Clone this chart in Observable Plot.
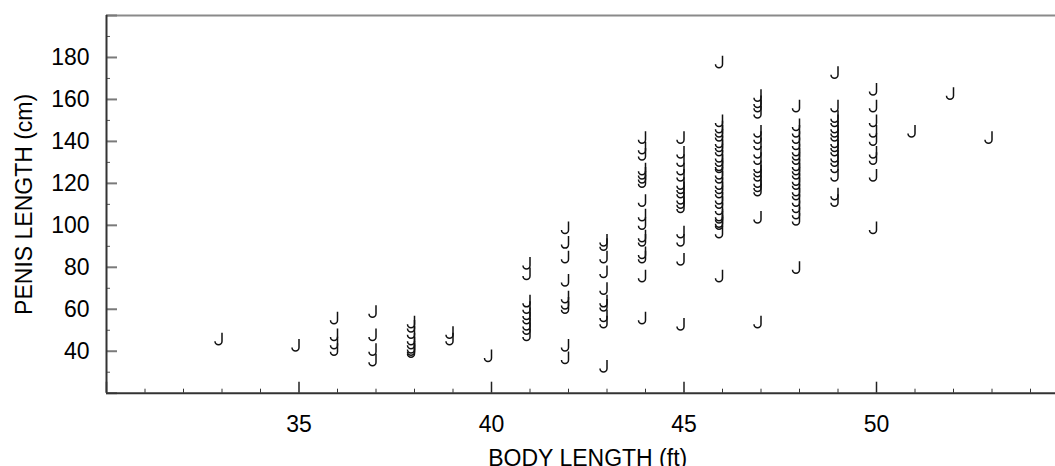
<!DOCTYPE html>
<html>
<head>
<meta charset="utf-8">
<script src="https://cdn.jsdelivr.net/npm/d3@7"></script>
<script src="https://cdn.jsdelivr.net/npm/@observablehq/plot@0.6"></script>
<style>
  html, body { margin: 0; padding: 0; background: #fff; overflow: hidden; width: 1055px; height: 466px; }
  #chart { width: 1055px; height: 466px; overflow: hidden; }
  #chart svg { display: block; max-width: none !important; }
</style>
</head>
<body>
<div id="chart"></div>
<script>
// Body length (ft) of each column of points
const bodyLengthFt = [33, 35, 36, 37, 38, 39, 40, 41, 42, 43, 44, 45, 46, 47, 48, 49, 50, 51, 52, 53];
// Penis length (cm) values for each body length column
const penisLengthCm = [
  [46],
  [43],
  [56, 48, 44, 41],
  [59, 48, 41, 36],
  [54, 52, 49, 46, 44, 42, 41, 40],
  [49, 46],
  [38],
  [82, 77, 64, 61, 58, 56, 53, 51, 48],
  [99, 92, 85, 74, 66, 63, 61, 43, 37],
  [93, 91, 85, 78, 70, 64, 62, 57, 54, 33],
  [142, 137, 134, 127, 125, 123, 121, 112, 105, 101, 95, 93, 87, 85, 76, 56],
  [142, 135, 131, 127, 124, 120, 118, 116, 113, 111, 109, 97, 93, 84, 53],
  [178, 150, 147, 145, 143, 140, 138, 136, 133, 131, 129, 128, 125, 123, 120, 118, 116, 113, 111, 108, 105, 104, 102, 101, 97, 76],
  [162, 159, 157, 154, 145, 142, 139, 135, 132, 128, 126, 124, 121, 119, 117, 104, 54],
  [157, 148, 145, 142, 139, 136, 134, 132, 129, 127, 125, 122, 120, 117, 115, 112, 109, 106, 103, 80],
  [173, 157, 152, 150, 147, 145, 143, 140, 138, 136, 133, 131, 128, 124, 115, 112],
  [165, 157, 150, 145, 141, 135, 132, 124, 99],
  [145],
  [163],
  [142]
];
// Axis ticks
const xMajorTicks = [30, 35, 40, 45, 50];
const xTickLabels = [35, 40, 45, 50];
const xMinorTicks = [31, 32, 33, 34, 36, 37, 38, 39, 41, 42, 43, 44, 46, 47, 48, 49, 51, 52, 53, 54];
const yMajorTicks = [20, 40, 60, 80, 100, 120, 140, 160, 180, 200];
const yTickLabels = [40, 60, 80, 100, 120, 140, 160, 180];
const yMinorTicks = [30, 50, 70, 90, 110, 130, 150, 170, 190];
const xTitle = "BODY LENGTH (ft)";
const yTitle = "PENIS LENGTH (cm)";

const points = bodyLengthFt.flatMap((ft, i) => penisLengthCm[i].map(cm => ({ft, cm})));

// hook-shaped marker ("J")
const hook = {
  draw(ctx) {
    ctx.moveTo(0, -6);
    ctx.lineTo(0, 2.5);
    ctx.arc(-3.5, 2.5, 3.5, 0, Math.PI, false);
  }
};

const W = 1070, H = 466, mT = 15, mB = 73.3, mL = 106, mR = 1.5;
const plotW = W - mL - mR, plotH = H - mT - mB;
const font = "'Liberation Sans', Arial, Helvetica, sans-serif";

const chart = Plot.plot({
  width: W,
  height: H,
  marginTop: mT,
  marginBottom: mB,
  marginLeft: mL,
  marginRight: mR,
  style: {fontFamily: font, fontSize: "23px", color: "#000", background: "#fff", maxWidth: "none"},
  x: {domain: [30, 55]},
  y: {domain: [20, 200]},
  marks: [
    // top frame line
    Plot.ruleY([200], {stroke: "#8a8a8a", strokeWidth: 2}),
    // minor ticks
    Plot.tickX(xMinorTicks, {x: d => d, stroke: "#333", strokeWidth: 1, insetTop: plotH - 4}),
    Plot.tickY(yMinorTicks, {y: d => d, stroke: "#555", strokeWidth: 1, insetRight: plotW - 4}),
    // major ticks (inward)
    Plot.tickX(xMajorTicks, {x: d => d, stroke: "#222", strokeWidth: 1.5, insetTop: plotH - 11}),
    Plot.tickY(yMajorTicks, {y: d => d, stroke: "#7a7a7a", strokeWidth: 2, insetRight: plotW - 11}),
    // axis lines
    Plot.ruleX([30], {stroke: "#333", strokeWidth: 2}),
    Plot.ruleY([20], {stroke: "#333", strokeWidth: 2}),
    // tick labels
    Plot.axisX({ticks: xTickLabels, tickSize: 0, tickPadding: 22, label: null, tickFormat: d => String(d), fontSize: 23, fill: "#000"}),
    Plot.axisY({ticks: yTickLabels, tickSize: 0, tickPadding: 17, label: null, tickFormat: d => String(d), fontSize: 23, fill: "#000"}),
    // titles
    Plot.text([xTitle], {text: d => d, frameAnchor: "bottom", dy: 65, textAnchor: "middle", lineAnchor: "middle", fontSize: 23, fill: "#000"}),
    Plot.text([yTitle], {text: d => d, frameAnchor: "left", dx: -82, rotate: -90, textAnchor: "middle", lineAnchor: "middle", fontSize: 23, fill: "#000"}),
    // data
    Plot.dot(points, {x: "ft", y: "cm", symbol: hook, fill: "none", stroke: "#111", strokeWidth: 1.5})
  ]
});
document.getElementById("chart").append(chart);
</script>
</body>
</html>
